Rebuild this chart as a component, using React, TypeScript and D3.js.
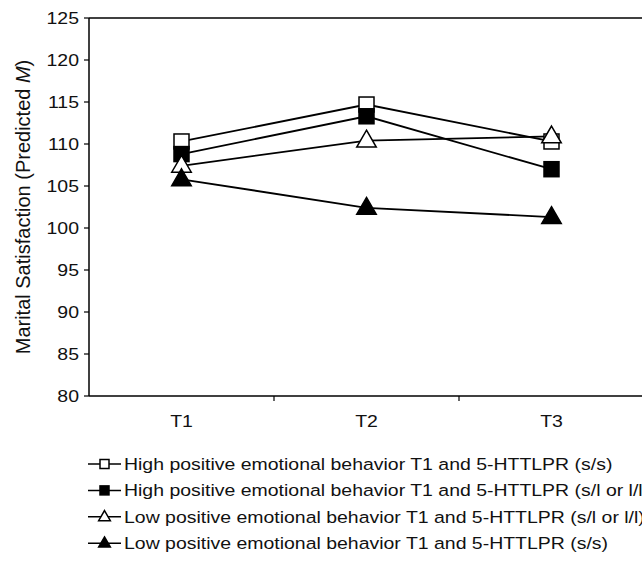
import React from "react";
import * as d3 from "d3";

const categories = ["T1", "T2", "T3"];
const seriesNames = [
  "High positive emotional behavior T1 and 5-HTTLPR (s/s)",
  "High positive emotional behavior T1 and 5-HTTLPR (s/l or l/l)",
  "Low positive emotional behavior T1 and 5-HTTLPR (s/l or l/l)",
  "Low positive emotional behavior T1 and 5-HTTLPR (s/s)",
];
const highSS = [110.3, 114.7, 110.3];
const highSL = [108.8, 113.3, 107.0];
const lowSL = [107.4, 110.4, 110.9];
const lowSS = [105.8, 102.4, 101.3];
const yTicks = [80, 85, 90, 95, 100, 105, 110, 115, 120, 125];

const seriesValues = [highSS, highSL, lowSL, lowSS];
const shapes = ["square", "square", "triangle", "triangle"];
const fills = ["#fff", "#000", "#fff", "#000"];

const W = 642;
const H = 565;
const margin = { left: 89, top: 18, bottom: 396, right: 644 };
const FONT = "'Liberation Sans', Arial, Helvetica, sans-serif";
const SX = 1.18;
const FS = 16.5;

function Marker({ shape, fill, x, y, s }: { shape: string; fill: string; x: number; y: number; s: number }) {
  if (shape === "square") {
    return (
      <rect x={x - s / 2} y={y - s / 2} width={s} height={s} fill={fill} stroke="#000" strokeWidth={1.5} />
    );
  }
  const w = s * 1.3;
  const h = s * 1.12;
  const p = `M${x},${y - h * 0.62} L${x + w / 2},${y + h * 0.38} L${x - w / 2},${y + h * 0.38} Z`;
  return <path d={p} fill={fill} stroke="#000" strokeWidth={1.5} strokeLinejoin="miter" />;
}

function SText({ x, y, anchor, children }: { x: number; y: number; anchor: string; children: React.ReactNode }) {
  return (
    <g transform={`translate(${x},${y}) scale(${SX},1)`}>
      <text x={0} y={0} dy="0.35em" textAnchor={anchor} fontSize={FS} fill="#111">
        {children}
      </text>
    </g>
  );
}

export default function App() {
  const x = d3.scaleBand<string>().domain(categories).range([margin.left, margin.right]);
  const y = d3.scaleLinear().domain([80, 125]).range([margin.bottom, margin.top]);
  const cx = (c: string) => (x(c) as number) + x.bandwidth() / 2;
  const line = d3
    .line<number>()
    .x((_, i) => cx(categories[i]))
    .y((d) => y(d));

  const legendY0 = 464;
  const legendStep = 26.4;

  return (
    <svg
      width={W}
      height={H}
      style={{ position: "absolute", left: 0, top: 0, background: "#fff" }}
      fontFamily={FONT}
    >
      <rect x={0} y={0} width={W} height={H} fill="#fff" />
      {/* frame */}
      <line x1={margin.left} x2={W} y1={margin.top} y2={margin.top} stroke="#000" strokeWidth={1.5} />
      <line x1={margin.left} x2={margin.left} y1={margin.top} y2={margin.bottom} stroke="#000" strokeWidth={1.5} />
      <line x1={margin.left} x2={W} y1={margin.bottom} y2={margin.bottom} stroke="#000" strokeWidth={1.5} />
      {/* y ticks */}
      {yTicks.map((t) => (
        <g key={t}>
          <line x1={margin.left - 5} x2={margin.left} y1={y(t)} y2={y(t)} stroke="#000" strokeWidth={1.2} />
          <SText x={margin.left - 10} y={y(t)} anchor="end">
            {t}
          </SText>
        </g>
      ))}
      {/* x ticks */}
      {categories.map((c, i) => (
        <g key={c}>
          {i > 0 && (
            <line
              x1={x(c) as number}
              x2={x(c) as number}
              y1={margin.bottom}
              y2={margin.bottom + 5}
              stroke="#000"
              strokeWidth={1.2}
            />
          )}
          <SText x={cx(c)} y={margin.bottom + 25} anchor="middle">
            {c}
          </SText>
        </g>
      ))}
      {/* y title */}
      <text
        transform={`translate(23,${(margin.top + margin.bottom) / 2}) rotate(-90)`}
        textAnchor="middle"
        dy="0.35em"
        fontSize={20}
        fill="#111"
      >
        Marital Satisfaction (Predicted <tspan fontStyle="italic">M</tspan>)
      </text>
      {/* lines */}
      {seriesValues.map((vals, si) => (
        <path key={si} d={line(vals) as string} fill="none" stroke="#000" strokeWidth={1.8} />
      ))}
      {/* markers */}
      {seriesValues.map((vals, si) =>
        vals.map((v, i) => (
          <Marker
            key={`${si}-${i}`}
            shape={shapes[si]}
            fill={fills[si]}
            x={cx(categories[i])}
            y={y(v)}
            s={shapes[si] === "square" ? 15 : 15}
          />
        ))
      )}
      {/* legend */}
      {seriesNames.map((name, si) => {
        const ly = legendY0 + si * legendStep;
        return (
          <g key={name}>
            <line x1={88} x2={121} y1={ly} y2={ly} stroke="#000" strokeWidth={1.5} />
            <Marker shape={shapes[si]} fill={fills[si]} x={104.5} y={ly} s={9} />
            <SText x={124} y={ly} anchor="start">
              {name}
            </SText>
          </g>
        );
      })}
    </svg>
  );
}
